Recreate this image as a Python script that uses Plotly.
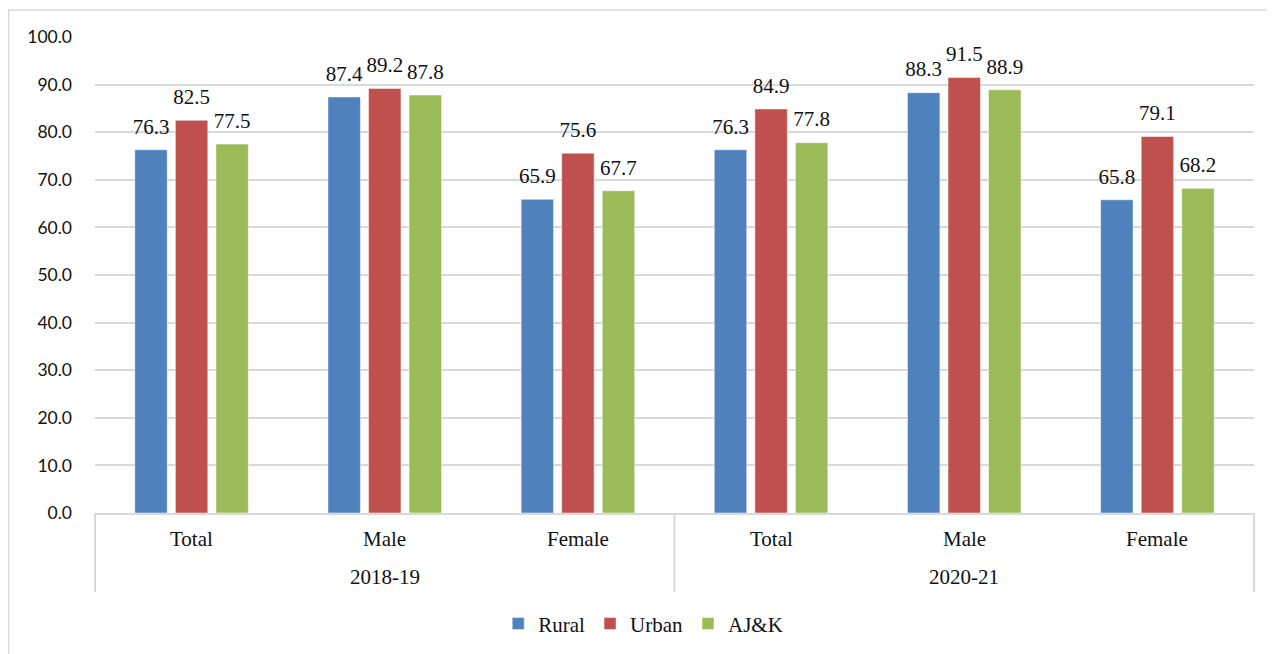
import plotly.graph_objects as go

years = ['2018-19'] * 3 + ['2020-21'] * 3
groups = ['Total', 'Male', 'Female', 'Total', 'Male', 'Female']
rural = [76.3, 87.4, 65.9, 76.3, 88.3, 65.8]
urban = [82.5, 89.2, 75.6, 84.9, 91.5, 79.1]
ajk = [77.5, 87.8, 67.7, 77.8, 88.9, 68.2]

series = [('Rural', rural, '#4F81BD'), ('Urban', urban, '#C0504D'), ('AJ&K', ajk, '#9BBB59')]

serif = 'Liberation Serif'
grid = '#d9d9d9'
plot_h = 476

fig = go.Figure()
for name, vals, col in series:
    fig.add_trace(go.Bar(
        x=[years, groups], y=vals, name=name,
        marker=dict(color=col, line=dict(color='white', width=0.5)),
        hoverinfo='x+y',
    ))

# value labels, placed by scatter traces grouped the same way as the bars
for name, vals, col in series:
    fig.add_trace(go.Scatter(
        x=[years, groups], y=vals, mode='markers+text',
        marker=dict(size=16, opacity=0), text=[f'{v:.1f}' for v in vals],
        textposition='top center',
        textfont=dict(family=serif, size=21, color='#111111'),
        cliponaxis=False, showlegend=False, hoverinfo='skip',
    ))

# two-level category labels and the dividers between the years
n = len(groups)
annotations = []
for i, g in enumerate(groups):
    annotations.append(dict(text=g, x=(i + 0.5) / n, y=0, xref='paper', yref='paper',
                            xanchor='center', yanchor='middle', yshift=-26, showarrow=False,
                            font=dict(family=serif, size=21, color='#111111')))
shapes = [dict(type='line', xref='paper', yref='paper', x0=0, x1=0, y0=0, y1=-79 / plot_h,
               line=dict(color=grid, width=2))]
for y in dict.fromkeys(years):
    idx = [i for i, v in enumerate(years) if v == y]
    annotations.append(dict(text=y, x=(idx[0] + idx[-1] + 1) / 2 / n, y=0, xref='paper',
                            yref='paper', xanchor='center', yanchor='middle', yshift=-64,
                            showarrow=False,
                            font=dict(family=serif, size=21, color='#111111')))
    edge = (idx[-1] + 1) / n
    shapes.append(dict(type='line', xref='paper', yref='paper', x0=edge, x1=edge,
                       y0=0, y1=-79 / plot_h, line=dict(color=grid, width=2)))

# outer chart frame
shapes.append(dict(type='rect', xref='paper', yref='paper', x0=-0.0746, x1=1.1,
                   y0=-0.4, y1=1.0567, line=dict(color=grid, width=1.5), layer='below'))

fig.update_layout(
    barmode='group', bargap=0.37, bargroupgap=0.2,
    scattermode='group', scattergap=0.37,
    width=1274, height=654,
    margin=dict(l=87, r=28, t=29, b=149),
    plot_bgcolor='white', paper_bgcolor='white',
    showlegend=True,
    legend=dict(orientation='h', x=0.473, xanchor='center', y=-0.233, yanchor='middle',
                font=dict(family=serif, size=21, color='#111111'),
                itemwidth=30, traceorder='normal'),
    xaxis=dict(type='multicategory', showline=True, linecolor=grid, linewidth=2,
               showticklabels=False, showdividers=False,
               ticks='', showgrid=False, automargin=False),
    yaxis=dict(range=[0, 100], dtick=10, tickformat='.1f', showgrid=True,
               gridcolor=grid, gridwidth=1.5, zeroline=False, showline=False,
               tickfont=dict(family='Lato', size=17.5, color='#111111'),
               ticklabelstandoff=22, automargin=False),
    annotations=annotations,
    shapes=shapes,
)

fig.write_html('out.html')
